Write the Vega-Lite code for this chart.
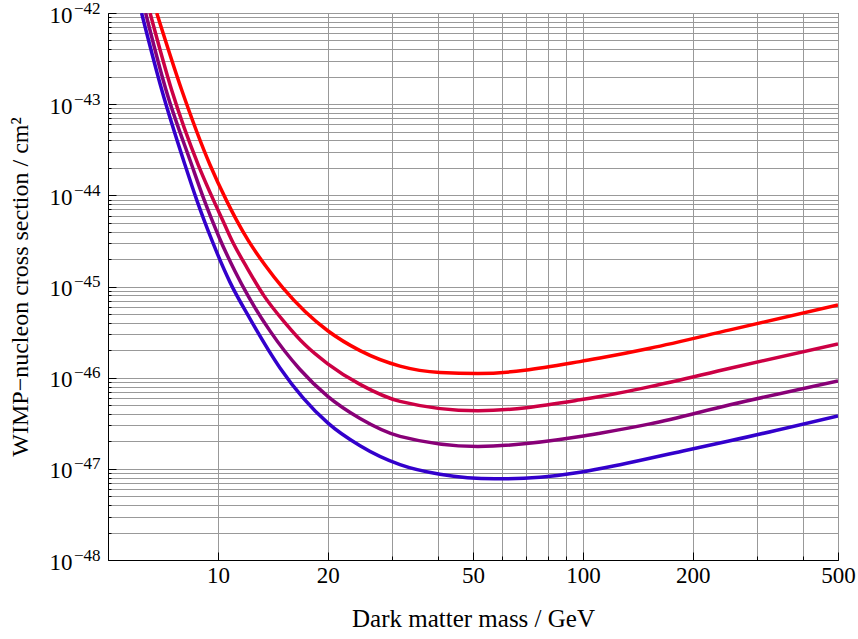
{
  "$schema": "https://vega.github.io/schema/vega-lite/v6.json",
  "width": 730,
  "height": 547,
  "autosize": "none",
  "padding": {"left": 108, "top": 13, "right": 20, "bottom": 79},
  "background": "white",
  "config": {
    "view": {"stroke": "black", "strokeWidth": 1},
    "axis": {
      "labelFont": "Liberation Serif",
      "titleFont": "Liberation Serif",
      "labelFontSize": 23,
      "titleFontSize": 24,
      "titleFontWeight": "normal",
      "labelColor": "black",
      "titleColor": "black",
      "domainColor": "black",
      "tickColor": "black",
      "gridColor": "#999999",
      "gridWidth": 1,
      "gridOpacity": 1
    }
  },
  "data": {
    "values": [
      {"series": "s4", "mass": 6.80, "sigma": 1e-42},
      {"series": "s4", "mass": 7.96, "sigma": 1.43e-43},
      {"series": "s4", "mass": 9.52, "sigma": 2.15e-44},
      {"series": "s4", "mass": 10.57, "sigma": 8.69e-45},
      {"series": "s4", "mass": 11.26, "sigma": 5.31e-45},
      {"series": "s4", "mass": 12.12, "sigma": 3.18e-45},
      {"series": "s4", "mass": 13.46, "sigma": 1.72e-45},
      {"series": "s4", "mass": 15.09, "sigma": 9.59e-46},
      {"series": "s4", "mass": 17.33, "sigma": 5.31e-46},
      {"series": "s4", "mass": 20.0, "sigma": 3.27e-46},
      {"series": "s4", "mass": 24.52, "sigma": 1.98e-46},
      {"series": "s4", "mass": 31.55, "sigma": 1.34e-46},
      {"series": "s4", "mass": 40.6, "sigma": 1.14e-46},
      {"series": "s4", "mass": 51.6, "sigma": 1.11e-46},
      {"series": "s4", "mass": 98.2, "sigma": 1.50e-46},
      {"series": "s4", "mass": 111.4, "sigma": 1.64e-46},
      {"series": "s4", "mass": 152.7, "sigma": 2.10e-46},
      {"series": "s4", "mass": 253.0, "sigma": 3.34e-46},
      {"series": "s4", "mass": 500.0, "sigma": 6.28e-46},

      {"series": "s3", "mass": 6.52, "sigma": 1e-42},
      {"series": "s3", "mass": 7.47, "sigma": 1.43e-43},
      {"series": "s3", "mass": 8.84, "sigma": 2.15e-44},
      {"series": "s3", "mass": 9.72, "sigma": 8.91e-45},
      {"series": "s3", "mass": 10.30, "sigma": 5.37e-45},
      {"series": "s3", "mass": 10.91, "sigma": 3.24e-45},
      {"series": "s3", "mass": 12.02, "sigma": 1.60e-45},
      {"series": "s3", "mass": 13.38, "sigma": 7.89e-46},
      {"series": "s3", "mass": 15.28, "sigma": 3.99e-46},
      {"series": "s3", "mass": 17.33, "sigma": 2.29e-46},
      {"series": "s3", "mass": 20.0, "sigma": 1.42e-46},
      {"series": "s3", "mass": 24.52, "sigma": 8.44e-47},
      {"series": "s3", "mass": 31.55, "sigma": 5.50e-47},
      {"series": "s3", "mass": 51.6, "sigma": 4.33e-47},
      {"series": "s3", "mass": 98.2, "sigma": 5.71e-47},
      {"series": "s3", "mass": 111.4, "sigma": 6.21e-47},
      {"series": "s3", "mass": 152.7, "sigma": 7.98e-47},
      {"series": "s3", "mass": 253.0, "sigma": 1.27e-46},
      {"series": "s3", "mass": 500.0, "sigma": 2.35e-46},

      {"series": "s2", "mass": 6.34, "sigma": 1e-42},
      {"series": "s2", "mass": 7.21, "sigma": 1.43e-43},
      {"series": "s2", "mass": 8.48, "sigma": 2.15e-44},
      {"series": "s2", "mass": 9.16, "sigma": 9.02e-45},
      {"series": "s2", "mass": 9.62, "sigma": 5.44e-45},
      {"series": "s2", "mass": 10.09, "sigma": 3.43e-45},
      {"series": "s2", "mass": 11.14, "sigma": 1.47e-45},
      {"series": "s2", "mass": 12.09, "sigma": 7.93e-46},
      {"series": "s2", "mass": 13.89, "sigma": 3.26e-46},
      {"series": "s2", "mass": 16.79, "sigma": 1.23e-46},
      {"series": "s2", "mass": 20.0, "sigma": 6.24e-47},
      {"series": "s2", "mass": 24.52, "sigma": 3.57e-47},
      {"series": "s2", "mass": 31.55, "sigma": 2.27e-47},
      {"series": "s2", "mass": 51.6, "sigma": 1.76e-47},
      {"series": "s2", "mass": 98.2, "sigma": 2.26e-47},
      {"series": "s2", "mass": 111.4, "sigma": 2.46e-47},
      {"series": "s2", "mass": 152.7, "sigma": 3.11e-47},
      {"series": "s2", "mass": 253.0, "sigma": 5.04e-47},
      {"series": "s2", "mass": 500.0, "sigma": 9.23e-47},

      {"series": "s1", "mass": 6.18, "sigma": 1e-42},
      {"series": "s1", "mass": 7.02, "sigma": 1.43e-43},
      {"series": "s1", "mass": 8.13, "sigma": 2.15e-44},
      {"series": "s1", "mass": 8.75, "sigma": 8.91e-45},
      {"series": "s1", "mass": 9.16, "sigma": 5.37e-45},
      {"series": "s1", "mass": 9.62, "sigma": 3.24e-45},
      {"series": "s1", "mass": 10.80, "sigma": 1.11e-45},
      {"series": "s1", "mass": 12.25, "sigma": 4.42e-46},
      {"series": "s1", "mass": 14.80, "sigma": 1.28e-46},
      {"series": "s1", "mass": 20.0, "sigma": 3.19e-47},
      {"series": "s1", "mass": 24.52, "sigma": 1.79e-47},
      {"series": "s1", "mass": 31.55, "sigma": 1.11e-47},
      {"series": "s1", "mass": 40.6, "sigma": 8.71e-48},
      {"series": "s1", "mass": 57.4, "sigma": 7.76e-48},
      {"series": "s1", "mass": 76.3, "sigma": 8.07e-48},
      {"series": "s1", "mass": 98.2, "sigma": 9.16e-48},
      {"series": "s1", "mass": 126.4, "sigma": 1.11e-47},
      {"series": "s1", "mass": 188.1, "sigma": 1.57e-47},
      {"series": "s1", "mass": 253.0, "sigma": 2.03e-47},
      {"series": "s1", "mass": 500.0, "sigma": 3.81e-47}
    ]
  },
  "encoding": {
    "x": {
      "field": "mass",
      "type": "quantitative",
      "scale": {"type": "log", "domain": [5, 500], "nice": false},
      "axis": {
        "title": "Dark matter mass / GeV",
        "values": [10, 20, 30, 40, 50, 60, 70, 80, 90, 100, 200, 300, 400, 500],
        "labelExpr": "indexof([10, 20, 50, 100, 200, 500], datum.value) >= 0 ? format(datum.value, 'd') : ''",
        "grid": true,
        "tickSize": {"condition": {"test": "indexof([10, 20, 50, 100, 200, 500], datum.value) >= 0", "value": -8}, "value": -4},
        "labelPadding": 12,
        "titlePadding": 15,
        "titleFontSize": 25,
        "labelFlush": false,
        "labelOverlap": false
      }
    },
    "order": {"field": "mass", "type": "quantitative"}
  },
  "layer": [
    {
      "mark": {"type": "line", "strokeWidth": 3.5, "interpolate": "monotone", "clip": true},
      "encoding": {
        "y": {
          "field": "sigma",
          "type": "quantitative",
          "scale": {"type": "log", "domain": [1e-48, 1e-42], "nice": false},
          "axis": {
            "orient": "left",
            "title": "WIMP−nucleon cross section / cm²",
            "values": [1e-48, 2e-48, 3e-48, 4e-48, 5e-48, 6e-48, 7e-48, 8e-48, 9e-48,
                       1e-47, 2e-47, 3e-47, 4e-47, 5e-47, 6e-47, 7e-47, 8e-47, 9e-47,
                       1e-46, 2e-46, 3e-46, 4e-46, 5e-46, 6e-46, 7e-46, 8e-46, 9e-46,
                       1e-45, 2e-45, 3e-45, 4e-45, 5e-45, 6e-45, 7e-45, 8e-45, 9e-45,
                       1e-44, 2e-44, 3e-44, 4e-44, 5e-44, 6e-44, 7e-44, 8e-44, 9e-44,
                       1e-43, 2e-43, 3e-43, 4e-43, 5e-43, 6e-43, 7e-43, 8e-43, 9e-43,
                       1e-42],
            "labelExpr": "abs(log(datum.value)/LN10 - round(log(datum.value)/LN10)) < 0.01 ? '10' : ''",
            "grid": true,
            "tickSize": {"condition": {"test": "abs(log(datum.value)/LN10 - round(log(datum.value)/LN10)) < 0.01", "value": -8}, "value": -3},
            "labelPadding": 44,
            "labelBaseline": "middle",
            "labelOffset": 2,
            "titlePadding": 17,
            "labelFlush": false,
            "labelOverlap": false
          }
        },
        "color": {
          "field": "series",
          "type": "nominal",
          "scale": {"domain": ["s1", "s2", "s3", "s4"], "range": ["#3300CC", "#880077", "#CC0044", "#FF0000"]},
          "legend": null
        }
      }
    },
    {
      "mark": {"type": "line", "strokeWidth": 1, "opacity": 0, "clip": true},
      "encoding": {
        "detail": {"field": "series", "type": "nominal"},
        "y": {
          "field": "sigma",
          "type": "quantitative",
          "scale": {"type": "log", "domain": [1e-48, 1e-42], "nice": false},
          "axis": {
            "orient": "left",
            "title": null,
            "values": [1e-48, 1e-47, 1e-46, 1e-45, 1e-44, 1e-43, 1e-42],
            "labelExpr": "'−' + format(-round(log(datum.value)/LN10), 'd')",
            "grid": false,
            "ticks": false,
            "domain": false,
            "labelFontSize": 17,
            "labelPadding": 8,
            "labelBaseline": "alphabetic",
            "labelOffset": 0,
            "labelFlush": false,
            "labelOverlap": false
          }
        }
      }
    }
  ],
  "resolve": {"axis": {"y": "independent"}}
}
